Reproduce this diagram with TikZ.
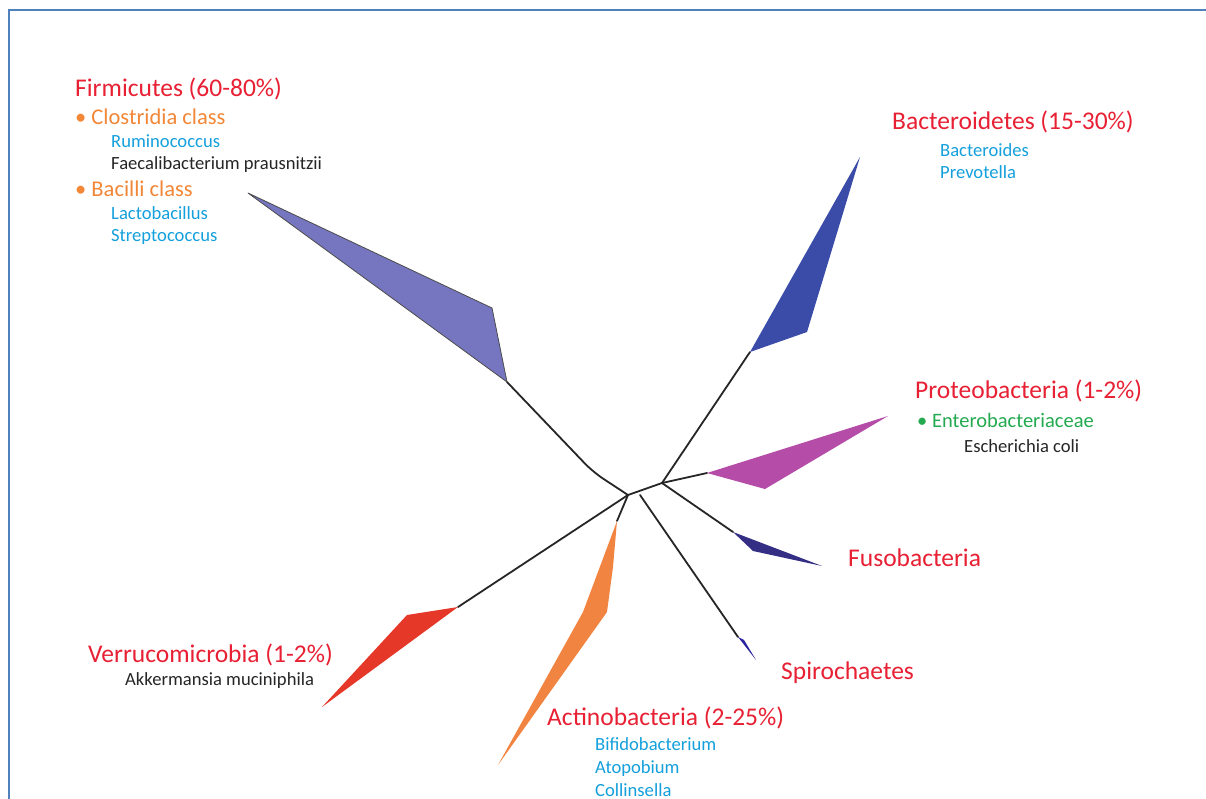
\documentclass[tikz,border=0pt]{standalone}
\usepackage{fontspec}
\setmainfont{Carlito}
\definecolor{frameblue}{RGB}{79,129,189}
\definecolor{phylumred}{RGB}{232,32,52}
\definecolor{classorange}{RGB}{242,135,55}
\definecolor{genusblue}{RGB}{20,160,220}
\definecolor{familygreen}{RGB}{35,170,80}
\definecolor{firmcol}{RGB}{118,118,192}
\definecolor{bactcol}{RGB}{58,76,168}
\definecolor{protcol}{RGB}{180,76,168}
\definecolor{fusocol}{RGB}{52,46,132}
\definecolor{verrcol}{RGB}{230,56,40}
\definecolor{acticol}{RGB}{242,132,66}
\tikzset{
  branch/.style={line width=1.8pt, draw=black!85, line cap=round},
  phylum/.style={anchor=base west, inner sep=0pt, text=phylumred, font=\fontsize{25.5}{30}\selectfont},
  classname/.style={anchor=base west, inner sep=0pt, font=\fontsize{22.5}{27}\selectfont},
  genus/.style={anchor=base west, inner sep=0pt, text=black!85, font=\fontsize{18.6}{22}\selectfont},
}
\begin{document}
\begin{tikzpicture}[x=1pt,y=-1pt]
\useasboundingbox (0,0) rectangle (1206,799);
\fill[white] (0,0) rectangle (1206,799);
\draw[frameblue, line width=2.5pt] (9,799) -- (9,10) -- (1206,10);

% junctions of the tree
\coordinate (root) at (628,495);
\coordinate (fork) at (662,483);
\coordinate (firmbend) at (593,472);
\coordinate (firm) at (507,382);
\coordinate (bact) at (750,352);
\coordinate (prot) at (707,473);
\coordinate (fuso) at (733,532);
\coordinate (spirostart) at (640,495);
\coordinate (spiro) at (738,637);
\coordinate (verr) at (458,607);
\coordinate (acti) at (617,521);

% branches
\draw[branch] (root) -- (fork);
\draw[branch, rounded corners=12pt] (root) -- (firmbend) -- (firm);
\draw[branch] (fork) -- (bact);
\draw[branch] (fork) -- (prot);
\draw[branch] (fork) -- (fuso);
\draw[branch] (spirostart) -- (spiro);
\draw[branch] (root) -- (verr);
\draw[branch] (root) -- (acti);

% wedges
\filldraw[fill=firmcol, draw=black!70, line width=0.8pt, line join=round] (firm) -- (492,308) -- (248,193) -- cycle;
\fill[bactcol] (bact) -- (860,157) -- (807,332) -- cycle;
\fill[protcol] (prot) -- (888,416) -- (765,489) -- cycle;
\fill[fusocol] (fuso) -- (822,566) -- (753,551) -- cycle;
\fill[fusocol!80!blue] (spiro) -- (744,640) -- (756,660) -- cycle;
\fill[verrcol] (verr) -- (407,615) -- (322,707) -- cycle;
\fill[acticol] (acti) -- (613,567) -- (607,612) -- (498,765) -- (583,612) -- cycle;

% labels
\node[phylum] (firmicutes) at (75,97) {Firmicutes (60-80\%)};
\node[classname, text=classorange] (clostridia) at (75,125) {• Clostridia class};
\node[genus, text=genusblue] (ruminococcus) at (111,148) {Ruminococcus};
\node[genus] (faecalibacterium) at (111,170) {Faecalibacterium prausnitzii};
\node[classname, text=classorange] (bacilli) at (75,197) {• Bacilli class};
\node[genus, text=genusblue] (lactobacillus) at (111,220) {Lactobacillus};
\node[genus, text=genusblue] (streptococcus) at (111,242) {Streptococcus};

\node[phylum] (bacteroidetes) at (892,130) {Bacteroidetes (15-30\%)};
\node[genus, text=genusblue] (bacteroides) at (940,157) {Bacteroides};
\node[genus, text=genusblue] (prevotella) at (940,179) {Prevotella};

\node[phylum] (proteobacteria) at (915,398) {Proteobacteria (1-2\%)};
\node[classname, text=familygreen, font=\fontsize{20.5}{24}\selectfont] (enterobacteriaceae) at (917,427) {• Enterobacteriaceae};
\node[genus] (ecoli) at (964,452) {Escherichia coli};

\node[phylum] (fusobacteria) at (848,566) {Fusobacteria};
\node[phylum] (spirochaetes) at (781,679) {Spirochaetes};

\node[phylum] (verrucomicrobia) at (88,662) {Verrucomicrobia (1-2\%)};
\node[genus] (akkermansia) at (125,685) {Akkermansia muciniphila};

\node[phylum] (actinobacteria) at (547,725) {Actinobacteria (2-25\%)};
\node[genus, text=genusblue] (bifidobacterium) at (595,750) {Bifidobacterium};
\node[genus, text=genusblue] (atopobium) at (595,773) {Atopobium};
\node[genus, text=genusblue] (collinsella) at (595,796) {Collinsella};
\end{tikzpicture}
\end{document}
